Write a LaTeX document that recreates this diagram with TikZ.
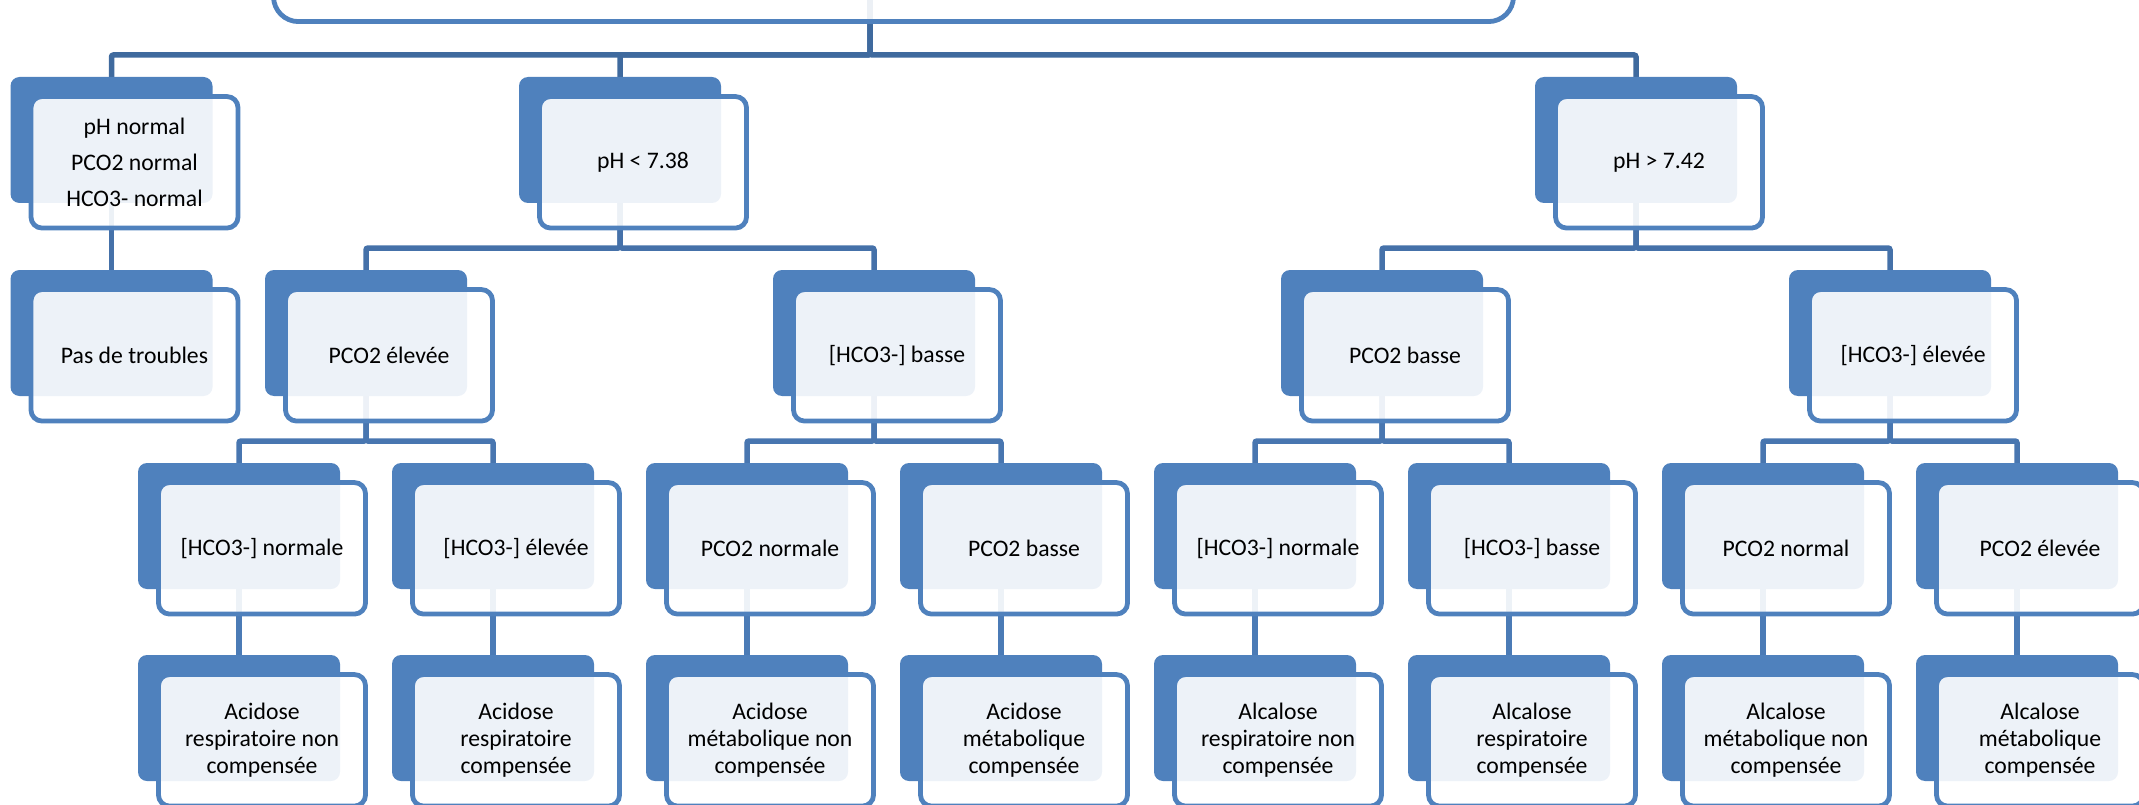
\documentclass[tikz,border=0pt]{standalone}
\usepackage{fontspec}
\setmainfont{Carlito}
\pgfdeclarelayer{bg}
\pgfsetlayers{bg,main}
\definecolor{acc}{HTML}{4F81BD}
\definecolor{cone}{HTML}{3F6A9E}
\definecolor{ctwo}{HTML}{4571A9}
\definecolor{cthree}{HTML}{4876B0}
\definecolor{cfour}{HTML}{4B7BB6}
\tikzset{
  backbox/.style={minimum width=202pt, minimum height=126pt, inner sep=0pt, outer sep=0pt,
    rounded corners=9pt, fill=acc, draw=none},
  frontbox/.style={minimum width=207pt, minimum height=131.5pt, inner sep=0pt, outer sep=0pt,
    rounded corners=11pt, draw=acc, line width=4.8pt, fill=white, fill opacity=0.9,
    text opacity=1, text=black, align=center, font=\fontsize{23.7}{27}\selectfont},
  conn/.style={line width=5.5pt, rounded corners=2pt},
}
\newcommand\mkbox[4]{%
  \node[backbox] (#1) at (#2,#3+63) {};
  \node[frontbox] (#1f) at (#2+23,#3+85.3) {#4};
}
\newcommand\link[3]{%
  \draw[conn,#1] (#2.center) |- ([yshift=22pt]#3.north) -- (#3.north);
}
\begin{document}
\begin{tikzpicture}[x=1pt,y=-1pt]
\useasboundingbox (0,0) rectangle (2139,805);
\clip (0,0) rectangle (2139,805);
% root (cut off at top)
\node[backbox, minimum width=1235pt, minimum height=134pt] (root) at (870,-70) {};
\node[frontbox, minimum width=1240pt, minimum height=150pt, rounded corners=25pt] (rootf) at (893.5,-53.4) {};
% level 1
\mkbox{A}{111.5}{77}{pH normal\\[9pt]PCO2 normal\\[9pt]HCO3- normal}
\mkbox{B}{620}{77}{pH < 7.38}
\mkbox{C}{1636}{77}{pH > 7.42}
% level 2
\mkbox{AA}{111.5}{270}{Pas de troubles}
\mkbox{BA}{366}{270}{PCO2 élevée}
\mkbox{BB}{874}{270}{[HCO3-] basse}
\mkbox{CA}{1382}{270}{PCO2 basse}
\mkbox{CB}{1890}{270}{[HCO3-] élevée}
% level 3
\mkbox{Ta}{239}{463}{[HCO3-] normale}
\mkbox{Tb}{493}{463}{[HCO3-] élevée}
\mkbox{Tc}{747}{463}{PCO2 normale}
\mkbox{Td}{1001}{463}{PCO2 basse}
\mkbox{Te}{1255}{463}{[HCO3-] normale}
\mkbox{Tf}{1509}{463}{[HCO3-] basse}
\mkbox{Tg}{1763}{463}{PCO2 normal}
\mkbox{Th}{2017}{463}{PCO2 élevée}
% level 4
\mkbox{Fa}{239}{655}{Acidose\\respiratoire non\\compensée}
\mkbox{Fb}{493}{655}{Acidose\\respiratoire\\compensée}
\mkbox{Fc}{747}{655}{Acidose\\métabolique non\\compensée}
\mkbox{Fd}{1001}{655}{Acidose\\métabolique\\compensée}
\mkbox{Fe}{1255}{655}{Alcalose\\respiratoire non\\compensée}
\mkbox{Ff}{1509}{655}{Alcalose\\respiratoire\\compensée}
\mkbox{Fg}{1763}{655}{Alcalose\\métabolique non\\compensée}
\mkbox{Fh}{2017}{655}{Alcalose\\métabolique\\compensée}
\begin{pgfonlayer}{bg}
\link{cone}{root}{A}
\link{cone}{root}{B}
\link{cone}{root}{C}
\link{ctwo}{A}{AA}
\link{ctwo}{B}{BA}
\link{ctwo}{B}{BB}
\link{ctwo}{C}{CA}
\link{ctwo}{C}{CB}
\link{cthree}{BA}{Ta}
\link{cthree}{BA}{Tb}
\link{cthree}{BB}{Tc}
\link{cthree}{BB}{Td}
\link{cthree}{CA}{Te}
\link{cthree}{CA}{Tf}
\link{cthree}{CB}{Tg}
\link{cthree}{CB}{Th}
\link{cfour}{Ta}{Fa}
\link{cfour}{Tb}{Fb}
\link{cfour}{Tc}{Fc}
\link{cfour}{Td}{Fd}
\link{cfour}{Te}{Fe}
\link{cfour}{Tf}{Ff}
\link{cfour}{Tg}{Fg}
\link{cfour}{Th}{Fh}
\end{pgfonlayer}
\end{tikzpicture}
\end{document}
